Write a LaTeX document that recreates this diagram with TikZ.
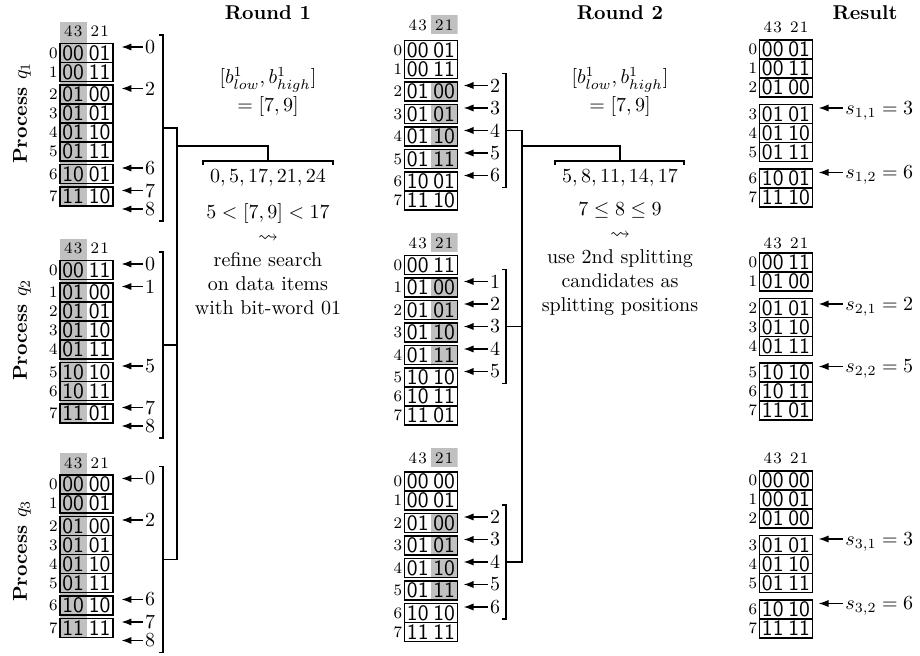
\documentclass[tikz,border=0pt]{standalone}
\usepackage{amsmath, amssymb}
\usepackage{tikz}
\usetikzlibrary{arrows.meta, backgrounds}
\definecolor{bitgray}{HTML}{C0C0C0}
\newcommand{\bitcols}{\makebox[13.25pt]{4\kern0.6pt3}\makebox[13.25pt]{2\kern0.6pt1}}
\newcommand{\bits}[2]{\makebox[13.25pt]{#1}\makebox[13.25pt]{#2}}

\begin{document}
\begin{tikzpicture}[x=0.5pt, y=-0.5pt]
\tikzset{
  bitrow/.style={draw, line width=0.6pt, minimum width=26.5pt, minimum height=9.5pt,
                 inner sep=0pt, outer sep=0pt, font=\fontsize{11}{12}\sffamily,
                 label distance=3pt},
  colhead/.style={minimum width=26.5pt, minimum height=9.5pt, inner sep=0pt, font=\footnotesize},
  idx/.style={font=\footnotesize, inner sep=1pt},
  shadelo/.style={path picture={\fill[bitgray] (path picture bounding box.north)
                  rectangle (path picture bounding box.south east);}},
  num/.style={inner sep=1pt},
  slab/.style={anchor=west, inner sep=1pt, text height=6.5pt, text depth=0pt},
  ptr/.style={-{Latex[length=5pt, width=3.6pt]}, line width=0.7pt, shorten >=3pt},
  tree/.style={line width=0.8pt},
  title/.style={font=\bfseries},
  proc/.style={font=\bfseries, rotate=90},
  txt/.style={align=center},
}
\useasboundingbox (0,0) rectangle (920,656);

% ── Titles ──────────────────────────────────────────────────
\node[title] (t1) at (268,13) {Round 1};
\node[title] (t2) at (620,13) {Round 2};
\node[title] (t3) at (865,13) {Result};

\node[proc] (pq1) at (22,113) {Process $q_1$};
\node[proc] (pq2) at (22,330) {Process $q_2$};
\node[proc] (pq3) at (22,551) {Process $q_3$};

% ── ROUND 1: process q1 ─────────────────────────────────────
\node[colhead] (ha1) at (86.5,31.5) {\bitcols};
\node[bitrow, label={[idx]left:0}] (a10) at (86.5,53)    {\bits{00}{01}};
\node[bitrow, label={[idx]left:1}] (a11) at (86.5,72)    {\bits{00}{11}};
\node[bitrow, label={[idx]left:2}] (a12) at (86.5,94.5)  {\bits{01}{00}};
\node[bitrow, label={[idx]left:3}] (a13) at (86.5,113.5) {\bits{01}{01}};
\node[bitrow, label={[idx]left:4}] (a14) at (86.5,132.5) {\bits{01}{10}};
\node[bitrow, label={[idx]left:5}] (a15) at (86.5,151.5) {\bits{01}{11}};
\node[bitrow, label={[idx]left:6}] (a16) at (86.5,174)   {\bits{10}{01}};
\node[bitrow, label={[idx]left:7}] (a17) at (86.5,196.5) {\bits{11}{10}};

\node[num] (na10) at (150,47)    {0};
\node[num] (na12) at (150,88.5)  {2};
\node[num] (na16) at (150,168)   {6};
\node[num] (na17) at (150,190.5) {7};
\node[num] (na18) at (150,209)   {8};
\draw[ptr, shorten >=4.2pt] (na10) -- (na10 -| a10.east);
\draw[ptr, shorten >=4.2pt] (na12) -- (na12 -| a12.east);
\draw[ptr, shorten >=4.2pt] (na16) -- (na16 -| a16.east);
\draw[ptr, shorten >=4.2pt] (na17) -- (na17 -| a17.east);
\draw[ptr, shorten >=4.2pt] (na18) -- (na18 -| a17.east);

% ── ROUND 1: process q2 ─────────────────────────────────────
\node[colhead] (ha2) at (86.5,248.5) {\bitcols};
\node[bitrow, label={[idx]left:0}] (a20) at (86.5,270)   {\bits{00}{11}};
\node[bitrow, label={[idx]left:1}] (a21) at (86.5,292.5) {\bits{01}{00}};
\node[bitrow, label={[idx]left:2}] (a22) at (86.5,311.5) {\bits{01}{01}};
\node[bitrow, label={[idx]left:3}] (a23) at (86.5,330.5) {\bits{01}{10}};
\node[bitrow, label={[idx]left:4}] (a24) at (86.5,349.5) {\bits{01}{11}};
\node[bitrow, label={[idx]left:5}] (a25) at (86.5,372)   {\bits{10}{10}};
\node[bitrow, label={[idx]left:6}] (a26) at (86.5,391)   {\bits{10}{11}};
\node[bitrow, label={[idx]left:7}] (a27) at (86.5,413.5) {\bits{11}{01}};

\node[num] (na20) at (150,264)   {0};
\node[num] (na21) at (150,286.5) {1};
\node[num] (na25) at (150,366)   {5};
\node[num] (na27) at (150,407.5) {7};
\node[num] (na28) at (150,426)   {8};
\draw[ptr, shorten >=4.2pt] (na20) -- (na20 -| a20.east);
\draw[ptr, shorten >=4.2pt] (na21) -- (na21 -| a21.east);
\draw[ptr, shorten >=4.2pt] (na25) -- (na25 -| a25.east);
\draw[ptr, shorten >=4.2pt] (na27) -- (na27 -| a27.east);
\draw[ptr, shorten >=4.2pt] (na28) -- (na28 -| a27.east);

% ── ROUND 1: process q3 ─────────────────────────────────────
\node[colhead] (ha3) at (86.5,463) {\bitcols};
\node[bitrow, label={[idx]left:0}] (a30) at (86.5,484.5) {\bits{00}{00}};
\node[bitrow, label={[idx]left:1}] (a31) at (86.5,503.5) {\bits{00}{01}};
\node[bitrow, label={[idx]left:2}] (a32) at (86.5,526)   {\bits{01}{00}};
\node[bitrow, label={[idx]left:3}] (a33) at (86.5,545)   {\bits{01}{01}};
\node[bitrow, label={[idx]left:4}] (a34) at (86.5,564)   {\bits{01}{10}};
\node[bitrow, label={[idx]left:5}] (a35) at (86.5,583)   {\bits{01}{11}};
\node[bitrow, label={[idx]left:6}] (a36) at (86.5,605.5) {\bits{10}{10}};
\node[bitrow, label={[idx]left:7}] (a37) at (86.5,628)   {\bits{11}{11}};

\node[num] (na30) at (150,478.5) {0};
\node[num] (na32) at (150,520)   {2};
\node[num] (na36) at (150,599.5) {6};
\node[num] (na37) at (150,622)   {7};
\node[num] (na38) at (150,640.5) {8};
\draw[ptr, shorten >=4.2pt] (na30) -- (na30 -| a30.east);
\draw[ptr, shorten >=4.2pt] (na32) -- (na32 -| a32.east);
\draw[ptr, shorten >=4.2pt] (na36) -- (na36 -| a36.east);
\draw[ptr, shorten >=4.2pt] (na37) -- (na37 -| a37.east);
\draw[ptr, shorten >=4.2pt] (na38) -- (na38 -| a37.east);

% gray column 43 behind round 1
\begin{scope}[on background layer]
  \fill[bitgray] (ha1.north west) rectangle (a17.south);
  \fill[bitgray] (ha2.north west) rectangle (a27.south);
  \fill[bitgray] (ha3.north west) rectangle (a37.south);
\end{scope}

% ── ROUND 1: brackets and tree ──────────────────────────────
\coordinate (ja1) at (163,128);
\coordinate (ja2) at (163,345);
\coordinate (ja3) at (163,559.5);
\coordinate (bk1) at (268,161);
\draw[tree] (159,35) -| (163,221) -- (159,221);
\draw[tree] (159,252) -| (163,438) -- (159,438);
\draw[tree] (159,466.5) -| (163,652.5) -- (159,652.5);
\draw[tree] (ja1) -- (177,128) -- (177,559.5) -- (ja3);
\draw[tree] (ja2) -- (177,345);
\draw[tree] (177,146) -| (bk1);
\draw[tree] (203,165) |- (333,161) -- (333,165);

\node[txt] (iv1) at (268,92) {$[b^1_{low}, b^1_{high}]$\\[2pt]$= [7, 9]$};
\node[txt] (cand1) at (268,178) {$0, 5, 17, 21, 24$};
\node[txt] (ex1) at (268,259)
  {$5 < [7, 9] < 17$\\$\rightsquigarrow$\\refine search\\on data items\\with bit-word 01};

% ── ROUND 2: process q1 ─────────────────────────────────────
\node[colhead, shadelo] (hb1) at (431,25) {\bitcols};
\node[bitrow, label={[idx]left:0}] (b10) at (431,50)  {\bits{00}{01}};
\node[bitrow, label={[idx]left:1}] (b11) at (431,69)  {\bits{00}{11}};
\node[bitrow, shadelo, label={[idx]left:2}] (b12) at (431,91.5)  {\bits{01}{00}};
\node[bitrow, shadelo, label={[idx]left:3}] (b13) at (431,114)   {\bits{01}{01}};
\node[bitrow, shadelo, label={[idx]left:4}] (b14) at (431,136.5) {\bits{01}{10}};
\node[bitrow, shadelo, label={[idx]left:5}] (b15) at (431,159)   {\bits{01}{11}};
\node[bitrow, label={[idx]left:6}] (b16) at (431,181.5) {\bits{10}{01}};
\node[bitrow, label={[idx]left:7}] (b17) at (431,200.5) {\bits{11}{10}};

\node[num] (nb12) at (495,85.5)  {2};
\node[num] (nb13) at (495,108)   {3};
\node[num] (nb14) at (495,130.5) {4};
\node[num] (nb15) at (495,153)   {5};
\node[num] (nb16) at (495,175.5) {6};
\draw[ptr] (nb12) -- (nb12 -| b12.east);
\draw[ptr] (nb13) -- (nb13 -| b13.east);
\draw[ptr] (nb14) -- (nb14 -| b14.east);
\draw[ptr] (nb15) -- (nb15 -| b15.east);
\draw[ptr] (nb16) -- (nb16 -| b16.east);

% ── ROUND 2: process q2 ─────────────────────────────────────
\node[colhead, shadelo] (hb2) at (431,243) {\bitcols};
\node[bitrow, label={[idx]left:0}] (b20) at (431,265) {\bits{00}{11}};
\node[bitrow, shadelo, label={[idx]left:1}] (b21) at (431,287.5) {\bits{01}{00}};
\node[bitrow, shadelo, label={[idx]left:2}] (b22) at (431,310)   {\bits{01}{01}};
\node[bitrow, shadelo, label={[idx]left:3}] (b23) at (431,332.5) {\bits{01}{10}};
\node[bitrow, shadelo, label={[idx]left:4}] (b24) at (431,355)   {\bits{01}{11}};
\node[bitrow, label={[idx]left:5}] (b25) at (431,377.5) {\bits{10}{10}};
\node[bitrow, label={[idx]left:6}] (b26) at (431,396.5) {\bits{10}{11}};
\node[bitrow, label={[idx]left:7}] (b27) at (431,415.5) {\bits{11}{01}};

\node[num] (nb21) at (495,281.5) {1};
\node[num] (nb22) at (495,304)   {2};
\node[num] (nb23) at (495,326.5) {3};
\node[num] (nb24) at (495,349)   {4};
\node[num] (nb25) at (495,371.5) {5};
\draw[ptr] (nb21) -- (nb21 -| b21.east);
\draw[ptr] (nb22) -- (nb22 -| b22.east);
\draw[ptr] (nb23) -- (nb23 -| b23.east);
\draw[ptr] (nb24) -- (nb24 -| b24.east);
\draw[ptr] (nb25) -- (nb25 -| b25.east);

% ── ROUND 2: process q3 ─────────────────────────────────────
\node[colhead, shadelo] (hb3) at (431,458) {\bitcols};
\node[bitrow, label={[idx]left:0}] (b30) at (431,481.5) {\bits{00}{00}};
\node[bitrow, label={[idx]left:1}] (b31) at (431,500.5) {\bits{00}{01}};
\node[bitrow, shadelo, label={[idx]left:2}] (b32) at (431,523)   {\bits{01}{00}};
\node[bitrow, shadelo, label={[idx]left:3}] (b33) at (431,545.5) {\bits{01}{01}};
\node[bitrow, shadelo, label={[idx]left:4}] (b34) at (431,568)   {\bits{01}{10}};
\node[bitrow, shadelo, label={[idx]left:5}] (b35) at (431,590.5) {\bits{01}{11}};
\node[bitrow, label={[idx]left:6}] (b36) at (431,613) {\bits{10}{10}};
\node[bitrow, label={[idx]left:7}] (b37) at (431,632) {\bits{11}{11}};

\node[num] (nb32) at (495,517)   {2};
\node[num] (nb33) at (495,539.5) {3};
\node[num] (nb34) at (495,562)   {4};
\node[num] (nb35) at (495,584.5) {5};
\node[num] (nb36) at (495,607)   {6};
\draw[ptr] (nb32) -- (nb32 -| b32.east);
\draw[ptr] (nb33) -- (nb33 -| b33.east);
\draw[ptr] (nb34) -- (nb34 -| b34.east);
\draw[ptr] (nb35) -- (nb35 -| b35.east);
\draw[ptr] (nb36) -- (nb36 -| b36.east);

% ── ROUND 2: brackets and tree ──────────────────────────────
\coordinate (jb1) at (506,130.5);
\coordinate (jb2) at (506,326.5);
\coordinate (jb3) at (506,562);
\coordinate (bk2) at (620,161);
\draw[tree] (502,73.5) -| (506,187.5) -- (502,187.5);
\draw[tree] (502,269.5) -| (506,383.5) -- (502,383.5);
\draw[tree] (502,505) -| (506,619) -- (502,619);
\draw[tree] (jb1) -- (522,130.5) -- (522,562) -- (jb3);
\draw[tree] (jb2) -- (522,326.5);
\draw[tree] (522,146) -| (bk2);
\draw[tree] (555,165) |- (684,161) -- (684,165);

\node[txt] (iv2) at (620,92) {$[b^1_{low}, b^1_{high}]$\\[2pt]$= [7, 9]$};
\node[txt] (cand2) at (620,178) {$5, 8, 11, 14, 17$};
\node[txt] (ex2) at (620,259)
  {$7 \leq 8 \leq 9$\\$\rightsquigarrow$\\use 2nd splitting\\candidates as\\splitting positions};

% ── RESULT: process q1 ──────────────────────────────────────
\node[colhead] (hc1) at (786,27) {\bitcols};
\node[bitrow, label={[idx]left:0}] (c10) at (786,49.5)  {\bits{00}{01}};
\node[bitrow, label={[idx]left:1}] (c11) at (786,68.5)  {\bits{00}{11}};
\node[bitrow, label={[idx]left:2}] (c12) at (786,87.5)  {\bits{01}{00}};
\node[bitrow, label={[idx]left:3}] (c13) at (786,114)   {\bits{01}{01}};
\node[bitrow, label={[idx]left:4}] (c14) at (786,133)   {\bits{01}{10}};
\node[bitrow, label={[idx]left:5}] (c15) at (786,152)   {\bits{01}{11}};
\node[bitrow, label={[idx]left:6}] (c16) at (786,178.5) {\bits{10}{01}};
\node[bitrow, label={[idx]left:7}] (c17) at (786,197.5) {\bits{11}{10}};

\node[slab] (nc13) at (843,108)   {$s_{1,1} = 3$};
\node[slab] (nc16) at (843,172.5) {$s_{1,2} = 6$};
\draw[ptr] (nc13) -- (nc13 -| c13.east);
\draw[ptr] (nc16) -- (nc16 -| c16.east);

% ── RESULT: process q2 ──────────────────────────────────────
\node[colhead] (hc2) at (786,243) {\bitcols};
\node[bitrow, label={[idx]left:0}] (c20) at (786,262.5) {\bits{00}{11}};
\node[bitrow, label={[idx]left:1}] (c21) at (786,281.5) {\bits{01}{00}};
\node[bitrow, label={[idx]left:2}] (c22) at (786,308)   {\bits{01}{01}};
\node[bitrow, label={[idx]left:3}] (c23) at (786,327)   {\bits{01}{10}};
\node[bitrow, label={[idx]left:4}] (c24) at (786,346)   {\bits{01}{11}};
\node[bitrow, label={[idx]left:5}] (c25) at (786,372.5) {\bits{10}{10}};
\node[bitrow, label={[idx]left:6}] (c26) at (786,391.5) {\bits{10}{11}};
\node[bitrow, label={[idx]left:7}] (c27) at (786,410.5) {\bits{11}{01}};

\node[slab] (nc22) at (843,304)   {$s_{2,1} = 2$};
\node[slab] (nc25) at (843,366.5) {$s_{2,2} = 5$};
\draw[ptr] (nc22) -- (nc22 -| c22.east);
\draw[ptr] (nc25) -- (nc25 -| c25.east);

% ── RESULT: process q3 ──────────────────────────────────────
\node[colhead] (hc3) at (786,458) {\bitcols};
\node[bitrow, label={[idx]left:0}] (c30) at (786,480.5) {\bits{00}{00}};
\node[bitrow, label={[idx]left:1}] (c31) at (786,499.5) {\bits{00}{01}};
\node[bitrow, label={[idx]left:2}] (c32) at (786,518.5) {\bits{01}{00}};
\node[bitrow, label={[idx]left:3}] (c33) at (786,545)   {\bits{01}{01}};
\node[bitrow, label={[idx]left:4}] (c34) at (786,564)   {\bits{01}{10}};
\node[bitrow, label={[idx]left:5}] (c35) at (786,583)   {\bits{01}{11}};
\node[bitrow, label={[idx]left:6}] (c36) at (786,609.5) {\bits{10}{10}};
\node[bitrow, label={[idx]left:7}] (c37) at (786,628.5) {\bits{11}{11}};

\node[slab] (nc33) at (843,539)   {$s_{3,1} = 3$};
\node[slab] (nc36) at (843,603.5) {$s_{3,2} = 6$};
\draw[ptr] (nc33) -- (nc33 -| c33.east);
\draw[ptr] (nc36) -- (nc36 -| c36.east);

\end{tikzpicture}
\end{document}
